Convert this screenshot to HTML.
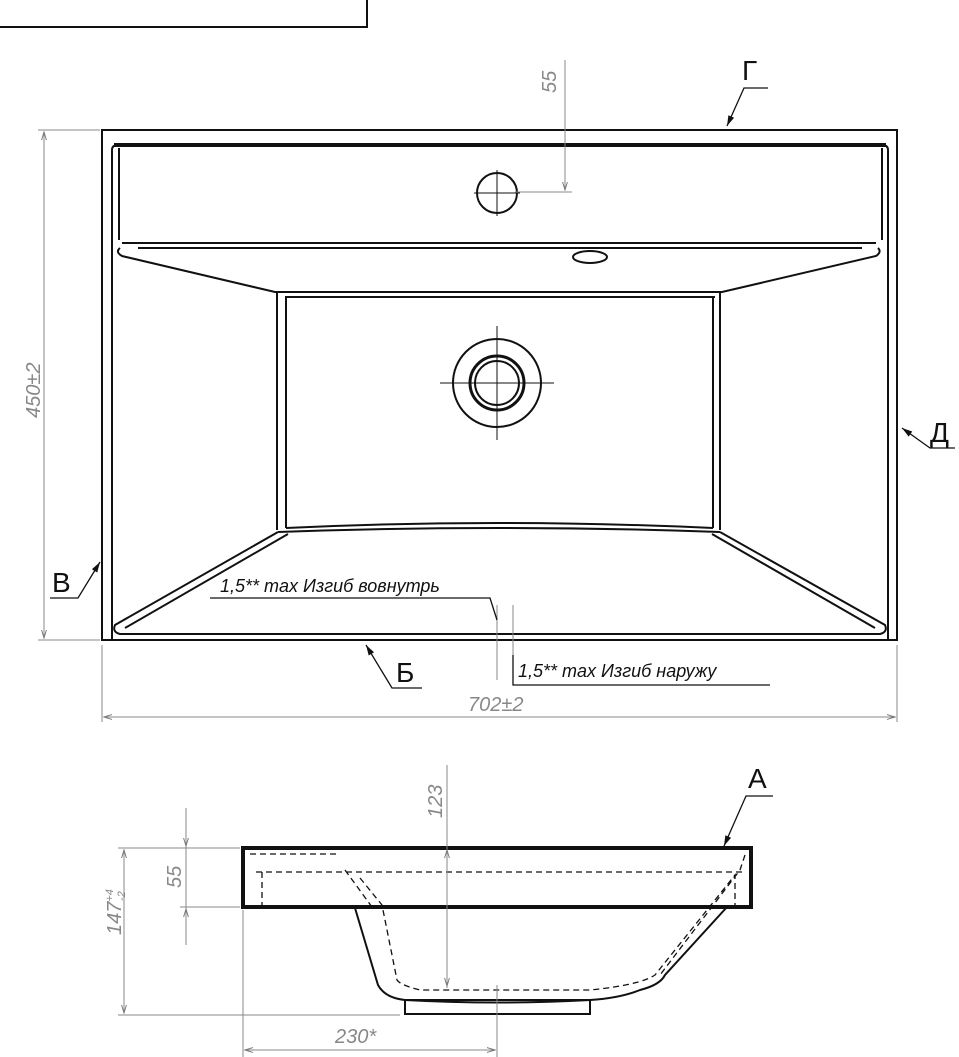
<!DOCTYPE html>
<html><head><meta charset="utf-8"><style>
body{margin:0;background:#fff;}
svg{display:block;}
text{font-family:"Liberation Sans","DejaVu Sans",sans-serif;}
.g{fill:#888;font-style:italic;font-size:20px;}
.l{fill:#111;font-size:28px;}
.n{fill:#111;font-style:italic;font-size:18px;}
</style></head><body>
<svg width="959" height="1057" viewBox="0 0 959 1057" xmlns="http://www.w3.org/2000/svg">
<defs>
<marker id="a" viewBox="0 0 10 10" refX="10" refY="5" markerWidth="10" markerHeight="8" orient="auto-start-reverse"><path d="M0,2 L10,5 L0,8" fill="none" stroke="#777" stroke-width="1.2"/></marker>
<marker id="b" viewBox="0 0 10 10" refX="10" refY="5" markerWidth="10" markerHeight="8" orient="auto"><path d="M0,2 L10,5 L0,8 z" fill="#111"/></marker>
</defs>
<path d="M0,27 H367 V0" fill="none" stroke="#111" stroke-width="2"/>
<g fill="none" stroke="#111" stroke-width="2">
<rect x="102" y="130" width="795" height="510"/>
<path d="M112,640 V150 Q112,145 118,145 H882 Q888,145 888,150 V640" stroke-width="2"/>
<line x1="114" y1="145" x2="886" y2="145" stroke-width="4"/>
<line x1="119" y1="148" x2="119" y2="240"/>
<line x1="882" y1="148" x2="882" y2="240"/>
<path d="M122,243 H876 M120,248 Q115,252 122,256 L275,292 H722 L876,256 Q882,252 878,248"/>
<path d="M138,248 H862 M285,297 H715"/>
<path d="M277,292 V530 M286,297 V528 M720,292 V530 M713,297 V528"/>
<path d="M286,528 Q497,518 713,528 M278,532 Q497,524 720,532"/>
<path d="M278,532 L115,625 Q112,632 120,634 H880 Q888,632 885,625 L720,532"/>
<path d="M288,534 L125,628 M712,534 L875,628"/>
<circle cx="497" cy="193" r="20"/>
<ellipse cx="590" cy="257" rx="17" ry="6"/>
<circle cx="497" cy="383" r="44"/>
<circle cx="497" cy="383" r="27" stroke-width="3"/>
<circle cx="497" cy="383" r="22"/>
</g>
<g stroke="#111" stroke-width="1">
<line x1="474" y1="193" x2="520" y2="193"/><line x1="497" y1="170" x2="497" y2="216"/>
<line x1="440" y1="383" x2="554" y2="383"/><line x1="497" y1="326" x2="497" y2="440"/>
</g>
<g stroke="#888" stroke-width="1" fill="none">
<line x1="38" y1="130" x2="100" y2="130"/><line x1="38" y1="640" x2="100" y2="640"/>
<line x1="44" y1="132" x2="44" y2="638" marker-start="url(#a)" marker-end="url(#a)"/>
<line x1="102" y1="645" x2="102" y2="722"/><line x1="897" y1="645" x2="897" y2="722"/>
<line x1="104" y1="717" x2="895" y2="717" marker-start="url(#a)" marker-end="url(#a)"/>
<line x1="565" y1="60" x2="565" y2="190" /><line x1="515" y1="192" x2="572" y2="192"/>
<line x1="565" y1="150" x2="565" y2="190" marker-end="url(#a)"/>
<line x1="497" y1="605" x2="497" y2="680"/><line x1="513" y1="605" x2="513" y2="680"/>
</g>
<g stroke="#111" stroke-width="1.3" fill="none">
<path d="M768,88 H744 L727,126" marker-end="url(#b)"/>
<path d="M955,448 H930 L902,428" marker-end="url(#b)"/>
<path d="M50,598 H78 L100,562" marker-end="url(#b)"/>
<path d="M422,688 H392 L366,645" marker-end="url(#b)"/>
<path d="M210,598 H490 L497,620"/>
<path d="M513,655 V685 H770"/>
</g>
<text class="g" transform="translate(556,93) rotate(-90)">55</text>
<text class="g" transform="translate(40,418) rotate(-90)">450±2</text>
<text class="g" x="468" y="711">702±2</text>
<text class="l" x="742" y="80">Г</text>
<text class="l" x="930" y="442">Д</text>
<text class="l" x="52" y="592">В</text>
<text class="l" x="396" y="682">Б</text>
<text class="n" x="220" y="592">1,5** max Изгиб вовнутрь</text>
<text class="n" x="518" y="677">1,5** max Изгиб наружу</text>
<g fill="none" stroke="#111">
<rect x="243" y="848" width="508" height="59" stroke-width="4"/>
<path d="M355,908 L378,985 Q385,998 405,1000 Q497,1005 590,1000 Q620,998 640,990 Q660,985 665,975 L727,907" stroke-width="2"/>
<rect x="405" y="1000" width="185" height="14" stroke-width="2"/>
<path d="M250,854 H340 M256,872 H745 M262,872 V906 M345,870 L372,907 M360,878 L382,905 L397,980 Q400,985 420,990 H590 Q640,985 655,975 L735,875 V906 M745,855 L740,870 L660,975" stroke-width="1.3" stroke-dasharray="6 4"/>
</g>
<g stroke="#888" stroke-width="1" fill="none">
<line x1="118" y1="848" x2="240" y2="848"/><line x1="118" y1="1015" x2="400" y2="1015"/>
<line x1="124" y1="850" x2="124" y2="1013" marker-start="url(#a)" marker-end="url(#a)"/>
<line x1="180" y1="907" x2="240" y2="907"/>
<line x1="186" y1="808" x2="186" y2="846" marker-end="url(#a)"/>
<line x1="186" y1="945" x2="186" y2="909" marker-end="url(#a)"/>
<line x1="186" y1="846" x2="186" y2="909"/>
<line x1="447" y1="765" x2="447" y2="988"/>
<line x1="447" y1="900" x2="447" y2="850" marker-end="url(#a)"/>
<line x1="447" y1="940" x2="447" y2="986" marker-end="url(#a)"/>
<line x1="243" y1="910" x2="243" y2="1057"/><line x1="497" y1="985" x2="497" y2="1057"/>
<line x1="245" y1="1050" x2="495" y2="1050" marker-start="url(#a)" marker-end="url(#a)"/>
</g>
<g stroke="#111" stroke-width="1.3" fill="none"><path d="M773,796 H746 L724,846" marker-end="url(#b)"/></g>
<text class="l" x="748" y="788">А</text>
<text class="g" transform="translate(442,818) rotate(-90)">123</text>
<text class="g" transform="translate(181,888) rotate(-90)">55</text>
<text class="g" transform="translate(121,935) rotate(-90)">147<tspan font-size="11" dy="-8">+4</tspan><tspan font-size="11" dx="-12" dy="12">-2</tspan></text>
<text class="g" x="335" y="1043">230*</text>
</svg>
</body></html>
